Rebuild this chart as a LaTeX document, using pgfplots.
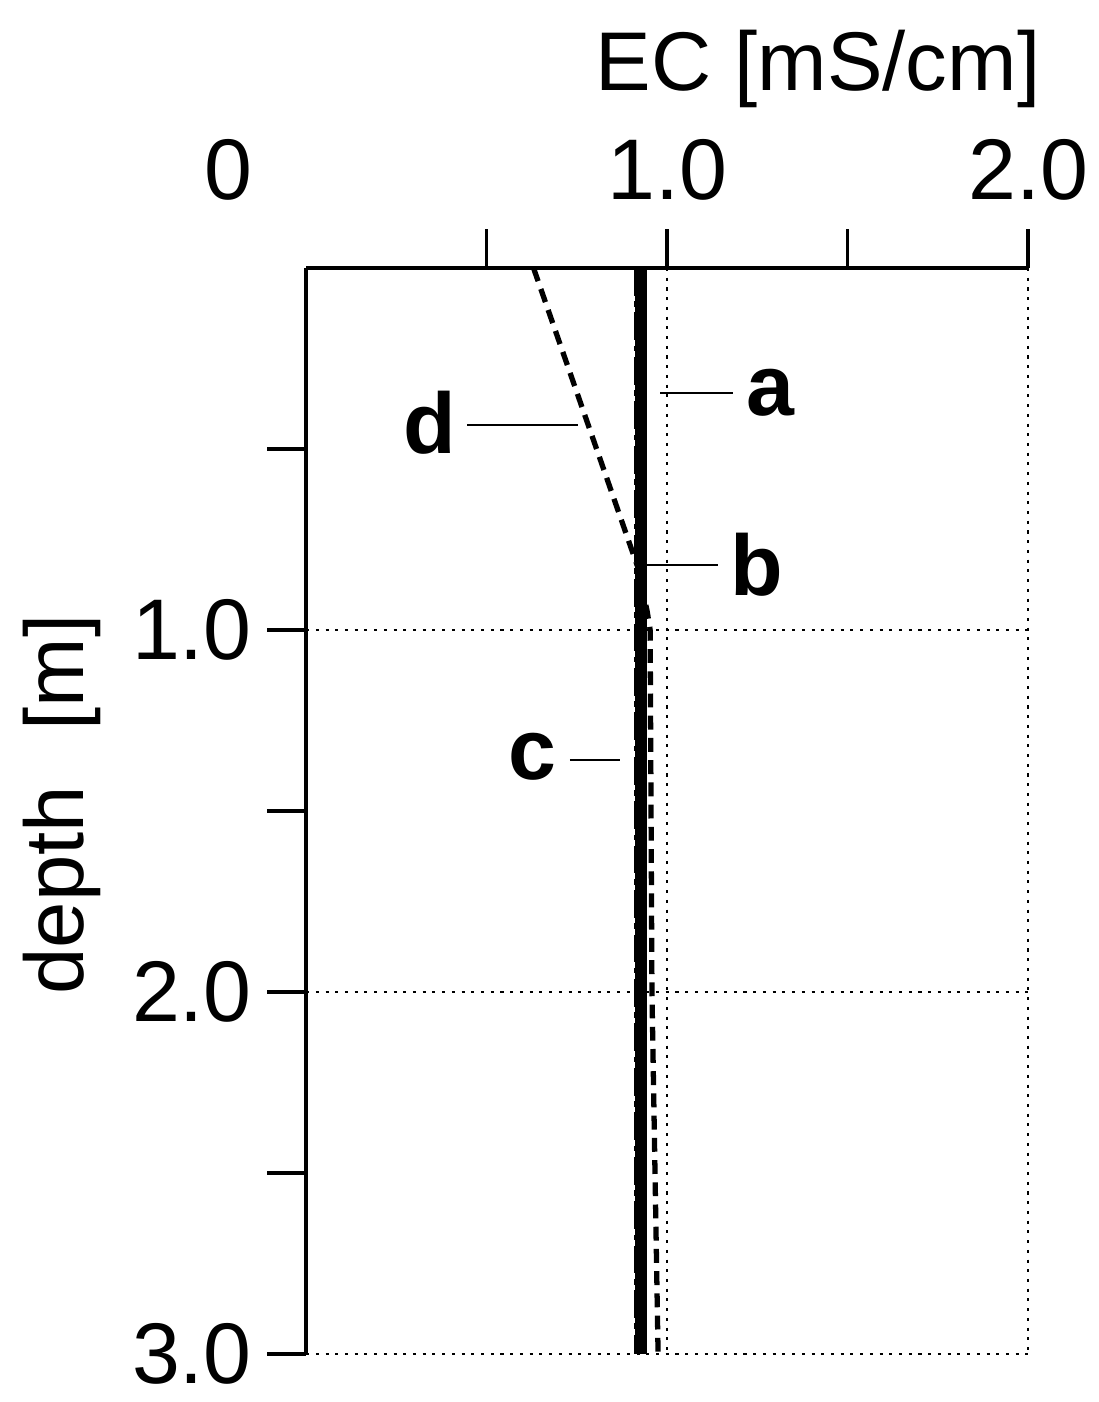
\documentclass[border=0pt]{standalone}
\usepackage{fontspec}
\setmainfont{Liberation Sans}
\usepackage{pgfplots}
\pgfplotsset{compat=1.18}
\begin{document}
\begin{tikzpicture}
\begin{axis}[name=ax, scale only axis, width=260pt, height=391pt,
 xmin=0, xmax=2, ymin=0, ymax=3, y dir=reverse,
 axis x line*=top, axis y line*=left,
 axis line style={line width=1.5pt},
 xtick={1,2}, minor xtick={0.5,1.5}, xticklabels={1.0,2.0},
 ytick={1,2,3}, minor ytick={0.5,1.5,2.5}, yticklabels={1.0,2.0,3.0},
 tick align=outside, major tick length=14pt, minor tick length=14pt,
 tick style={line width=1.3pt, black},
 xmajorgrids, ymajorgrids, grid style={dash pattern=on 1.1pt off 2.4pt, line width=0.8pt, black},
 ticklabel style={font=\fontsize{31}{36}\selectfont},
 xticklabel style={yshift=7pt},
 yticklabel style={xshift=-2pt},
 /pgf/number format/assume math mode=true,
 clip=false,
]
\addplot[black, line width=4.3pt] coordinates {(0.927,0) (0.927,3)};
\addplot[black, line width=1.6pt, dash pattern=on 10pt off 2pt on 2pt off 2pt] coordinates {(0.915,0) (0.915,3)};
\addplot[black, line width=1.9pt, dash pattern=on 5pt off 3pt] coordinates {(0.63,0) (0.92,0.83) (0.945,0.95) (0.953,1.0) (0.958,2.0) (0.975,3.0)};
% leaders
\draw[line width=0.7pt] (axis cs:0.981,0.345) -- (axis cs:1.183,0.345);
\draw[line width=0.7pt] (axis cs:0.939,0.820) -- (axis cs:1.141,0.820);
\draw[line width=0.7pt] (axis cs:0.731,1.359) -- (axis cs:0.870,1.359);
\draw[line width=0.7pt] (axis cs:0.446,0.434) -- (axis cs:0.753,0.434);
\begin{scope}[every node/.style={font=\fontsize{31}{36}\selectfont\bfseries, inner sep=0pt}]
\node at (axis cs:1.285,0.345) {a};
\node at (axis cs:1.249,0.820) {b};
\node at (axis cs:0.626,1.351) {c};
\node at (axis cs:0.343,0.428) {d};
\end{scope}
\node[anchor=base, inner sep=0pt, font=\fontsize{31}{36}\selectfont] at ([yshift=24.5pt]axis cs:-0.216,0) {0};
\node[anchor=base, inner sep=0pt, font=\fontsize{30}{36}\selectfont] at ([yshift=64pt]axis cs:1.418,0) {EC [mS/cm]};
\node[rotate=90, anchor=center, inner sep=0pt, font=\fontsize{30}{36}\selectfont] at ([xshift=-87.9pt]axis description cs:0,0.506) {depth\hspace{20pt}[m]};
\end{axis}
\pgfresetboundingbox
\path ([xshift=-110.2pt,yshift=-17.3pt]ax.south west) rectangle ([xshift=25.2pt,yshift=96.5pt]ax.north east);
\end{tikzpicture}
\end{document}
